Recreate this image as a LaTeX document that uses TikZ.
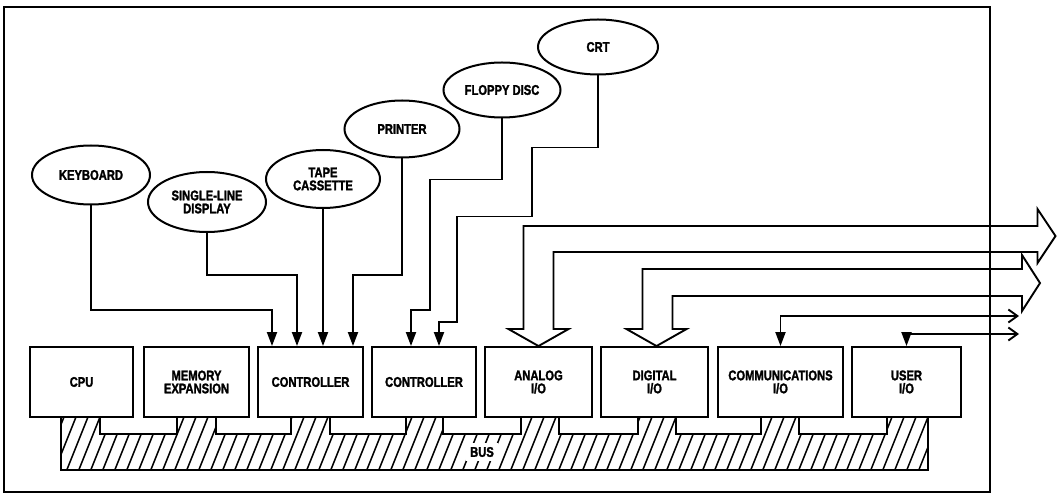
\documentclass[tikz,border=0pt]{standalone}
\usepackage{fontspec}
\newfontfamily\lblfont{Liberation Sans}[UprightFont=* Bold, FakeStretch=0.8, FakeBold=1.8]
\usetikzlibrary{arrows.meta, shapes.geometric}

\tikzset{
  lbl/.style={font=\lblfont\fontsize{14}{13}\selectfont, align=center},
  device/.style={lbl, ellipse, draw, line width=2pt, inner sep=0pt},
  unit/.style={lbl, draw, line width=1.9pt, minimum height=70pt, inner sep=0pt},
  feed/.style={line width=1.9pt, -{Triangle[length=14pt, width=10pt]}},
  duplex/.style={line width=1.9pt, {Straight Barb[length=9pt, width=13pt]}-{Triangle[length=14pt, width=10pt]}},
  wide/.style={line width=1.9pt},
  hatch/.style={line width=1.5pt}
}

\begin{document}
\begin{tikzpicture}[x=1pt, y=-1pt]
  \useasboundingbox (0,0) rectangle (1061,494);
  % Frame
  \draw[line width=2.8pt] (4,7) rectangle (990,492);

  % Bus with its stubs
  \draw[line width=1.9pt, path picture={
      \foreach \x in {30,42,...,950} \draw[hatch] (\x,472) -- ++(24,-60);}]
    (61,470) -- (61,417) -| (100,434) -| (177,417) -| (216,434) -| (291,417)
    -| (330,434) -| (406,417) -| (443,434) -| (521,417) -| (559,434)
    -| (638,417) -| (676,434) -| (761,417) -| (799,434) -| (887,417)
    -| (928,470) -- cycle;
  \node[lbl, fill=white, inner sep=4pt] (bus) at (482,452) {BUS};

  % Modules on the bus
  \node[unit, minimum width=103pt] (cpu) at (81.5,382) {CPU};
  \node[unit, minimum width=105pt] (mem) at (196.5,382) {MEMORY\\EXPANSION};
  \node[unit, minimum width=105pt] (ctrlA) at (310.5,382) {CONTROLLER};
  \node[unit, minimum width=104pt] (ctrlB) at (424,382) {CONTROLLER};
  \node[unit, minimum width=107pt] (ana) at (538.5,382) {ANALOG\\I/O};
  \node[unit, minimum width=107pt] (dig) at (654.5,382) {DIGITAL\\I/O};
  \node[unit, minimum width=125pt] (comm) at (780.5,382) {COMMUNICATIONS\\I/O};
  \node[unit, minimum width=109pt] (user) at (906.5,382) {USER\\I/O};

  % Peripherals
  \node[device, minimum width=118pt, minimum height=59pt] (kbd) at (91,175) {KEYBOARD};
  \node[device, minimum width=118pt, minimum height=60pt] (disp) at (207,202) {SINGLE-LINE\\DISPLAY};
  \node[device, minimum width=114pt, minimum height=58pt] (tape) at (323,179) {TAPE\\CASSETTE};
  \node[device, minimum width=115pt, minimum height=57pt] (prn) at (402,129) {PRINTER};
  \node[device, minimum width=117pt, minimum height=55pt] (fdd) at (502,90) {FLOPPY DISC};
  \node[device, minimum width=120pt, minimum height=55pt] (crt) at (598,47) {CRT};

  % Controller inputs
  \coordinate (inA1) at ([xshift=-38.5pt]ctrlA.north);
  \coordinate (inA2) at ([xshift=-13.5pt]ctrlA.north);
  \coordinate (inA4) at ([xshift=42.5pt]ctrlA.north);
  \coordinate (inB1) at ([xshift=-13pt]ctrlB.north);
  \coordinate (inB2) at ([xshift=15pt]ctrlB.north);

  \draw[feed] (kbd.south) |- ([yshift=36pt]inA1) -- (inA1);
  \draw[feed] (disp.south) |- ([yshift=71pt]inA2) -- (inA2);
  \draw[feed] (tape.south) -- (tape.south |- ctrlA.north);
  \draw[feed] (prn.south) |- ([yshift=71pt]inA4) -- (inA4);
  \draw[feed] (fdd.south) |- ++(-72,61) |- ([yshift=36pt]inB1) -- (inB1);
  \draw[feed] (crt.south) |- ++(-66,72) |- ++(-75,69) |- ([yshift=24pt]inB2) -- (inB2);

  % Wide data paths
  \draw[wide] (ana.north) -- ++(30,-17) -- ++(-15,0) -- ++(0,-77) -- ++(484,0)
    -- ++(0,11) -- ++(18,-27) -- ++(-18,-27) -- ++(0,17) -- ++(-514,0)
    -- ++(0,103) -- ++(-15,0) -- cycle;
  \draw[wide] ([xshift=2pt]dig.north) -- ++(30,-17) -- ++(-14,0) -- ++(0,-33)
    -- ++(349.5,0) -- ++(0,15) -- ++(18,-28) -- ++(-18,-28) -- ++(0,14)
    -- ++(-379.5,0) -- ++(0,60) -- ++(-16,0) -- cycle;

  % Serial lines
  \coordinate (exitC) at (1019,316);
  \coordinate (exitU) at (1019,334);
  \draw[duplex] (exitC) -| (comm.north);
  \draw[duplex] (exitU) -| (user.north);
\end{tikzpicture}
\end{document}
